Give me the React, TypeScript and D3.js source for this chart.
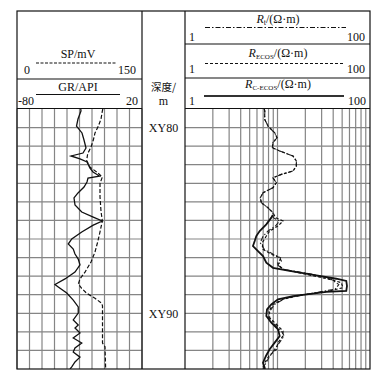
import React from "react";
import * as d3 from "d3";

// ---- data: [depth (m, XY-relative), value] ----
const grData: [number, number][] = [
  [79.0, -29], [79.11, -28.8], [79.54, -31.2], [79.92, -32.4], [80.29, -28], [80.67, -26.4],
  [81.1, -24.8], [81.37, -27.2], [81.53, -36.8], [81.69, -29.6], [81.85, -24], [82.18, -21.6],
  [82.39, -19.2], [82.61, -14], [82.72, -23.2], [82.93, -24], [83.2, -26.4], [83.52, -31.2],
  [83.79, -34.4], [84.17, -33.6], [84.55, -28.2], [84.82, -19], [85.03, -11.8], [85.25, -19],
  [85.62, -28.2], [86.0, -36.2], [86.27, -39], [86.54, -35], [86.81, -33.6], [87.08, -31],
  [87.4, -29.6], [87.78, -33.6], [88.15, -41.6], [88.45, -49.6], [88.58, -47], [88.91, -40.2],
  [89.29, -35], [89.66, -31], [89.99, -31], [90.36, -35], [90.63, -31], [90.79, -33.6],
  [91.06, -29.6], [91.33, -35], [91.6, -28.2], [91.87, -33.6], [92.09, -35], [92.36, -29.6],
  [92.62, -33.6], [92.89, -36.2], [93.0, -37.6],
];

const spData: [number, number][] = [
  [79.0, 103], [79.11, 102.4], [79.54, 100.8], [79.92, 97.6], [80.29, 93.6], [80.67, 91.6],
  [81.05, 88.8], [81.41, 84.8], [81.77, 83.6], [82.13, 87.6], [82.39, 95.6], [82.66, 102.4],
  [83.02, 99.6], [83.74, 99.6], [84.5, 100.8], [85.03, 102.4], [85.62, 99.6], [86.16, 96.8],
  [86.7, 93.6], [87.24, 88.8], [87.78, 81.6], [88.15, 75.6], [88.42, 73.6], [88.66, 77.6],
  [88.92, 83.6], [89.19, 93.6], [89.46, 101.6], [89.6, 102.6], [91.6, 102.6], [91.8, 105.6],
  [93.0, 106.4],
];

const rtData: [number, number][] = [
  [79.0, 7.2], [79.11, 7.3], [79.55, 7.25], [79.92, 7.9], [80.28, 9.3], [80.55, 9.9],
  [80.81, 8.9], [81.08, 8.8], [81.26, 10.6], [81.53, 14.7], [81.8, 16.0], [82.07, 16.0],
  [82.34, 14.7], [82.52, 11.0], [82.7, 8.9], [82.97, 9.7], [83.24, 8.9], [83.51, 7.0],
  [83.78, 6.5], [84.05, 6.7], [84.32, 7.9], [84.58, 8.9], [84.85, 9.0], [85.03, 10.5],
  [85.3, 9.5], [85.57, 7.9], [85.84, 7.0], [86.2, 6.5], [86.56, 7.2], [86.82, 9.0],
  [87.01, 10.8], [87.19, 10.5], [87.36, 9.8], [87.63, 11.5], [87.9, 24], [88.17, 38],
  [88.45, 46], [88.7, 42], [88.95, 22], [89.2, 12], [89.52, 9.3], [89.88, 8.3],
  [90.24, 8.0], [90.59, 9.3], [90.95, 11.0], [91.22, 11.8], [91.58, 10.5], [91.94, 9.3],
  [92.3, 8.3], [92.66, 7.5], [93.0, 7.0],
];

const ecosData: [number, number][] = [
  [79.0, 7.2], [79.11, 7.27], [79.55, 7.27], [79.92, 7.9], [80.28, 9.33], [80.55, 9.88],
  [80.81, 8.94], [81.08, 8.79], [81.26, 10.56], [81.53, 14.71], [81.8, 15.97], [82.07, 15.97],
  [82.34, 14.71], [82.52, 11.0], [82.7, 8.94], [82.97, 9.71], [83.24, 8.94], [83.51, 6.97],
  [83.78, 6.52], [84.05, 6.68], [84.32, 7.9], [84.58, 8.94], [84.85, 9.5], [85.03, 11.47],
  [85.3, 10.13], [85.57, 8.23], [85.84, 7.57], [86.2, 6.85], [86.56, 6.97], [86.82, 8.57],
  [87.01, 10.56], [87.19, 11.0], [87.36, 10.13], [87.63, 11.47], [87.9, 20.5], [88.17, 36.7],
  [88.35, 48.9], [88.62, 51.1], [88.8, 36.7], [89.03, 17.4], [89.25, 11.47], [89.52, 8.94],
  [89.88, 8.09], [90.24, 8.23], [90.59, 9.71], [90.95, 11.47], [91.22, 11.47], [91.58, 10.13],
  [91.94, 9.71], [92.3, 8.09], [92.66, 7.27], [92.93, 6.97], [93.0, 6.9],
];

const cecosData: [number, number][] = [
  [84.7, 8.9], [84.85, 8.57], [85.21, 7.57], [85.57, 6.42], [85.84, 5.9], [86.11, 5.67],
  [86.38, 5.43], [86.65, 6.15], [86.92, 6.97], [87.28, 7.57], [87.55, 8.94], [87.72, 13.55],
  [87.96, 26.3], [88.14, 43.2], [88.26, 55.4], [88.53, 56.4], [88.8, 55.4], [88.85, 33.7],
  [89.07, 14.71], [89.25, 10.13], [89.52, 8.57], [89.79, 7.7], [90.15, 7.57], [90.51, 8.57],
  [90.86, 10.13], [91.22, 10.56], [91.58, 9.33], [91.94, 8.23], [92.3, 7.5], [92.66, 6.97],
  [92.93, 7.27], [93.0, 7.3],
];

const depthRange: [number, number] = [79, 93];
const depthGrid = [80, 81, 82, 83, 84, 85, 86, 87, 88, 89, 90, 91, 92];
const depthLabels: [number, string][] = [[80, "XY80"], [90, "XY90"]];
const grDomain: [number, number] = [-80, 20];
const spDomain: [number, number] = [0, 150];
const resDomain: [number, number] = [1, 100];
const resGrid = [2, 3, 4, 5, 6, 7, 8, 9, 10, 20, 30, 40, 50, 60, 70, 80, 90];

const SERIF = "'Liberation Serif', 'DejaVu Serif', serif";
const CJK = "'Noto Sans CJK SC', sans-serif";

export default function App() {
  const L0 = 17, L1 = 142, D1 = 185, R1 = 370;
  const TOP = 11, HB = 108.5, BOT = 369;

  const y = d3.scaleLinear().domain(depthRange).range([109, BOT]);
  const xGR = d3.scaleLinear().domain(grDomain).range([L0, L1]);
  const xSP = d3.scaleLinear().domain(spDomain).range([L0, L1]);
  const xR = d3.scaleLog().domain(resDomain).range([D1, R1]);

  const lineGR = d3.line<[number, number]>().x((d) => xGR(d[1])).y((d) => y(d[0]));
  const lineSP = d3.line<[number, number]>().x((d) => xSP(d[1])).y((d) => y(d[0]));
  const lineR = d3.line<[number, number]>().x((d) => xR(d[1])).y((d) => y(d[0]));

  const grid = "#858585";
  const leftTicks = xGR.ticks(10);

  return (
    <svg width={381} height={377} style={{ position: "absolute", left: 0, top: 0, background: "#fff" }}>
      <defs>
        <clipPath id="clipL"><rect x={L0} y={HB} width={L1 - L0} height={BOT - HB} /></clipPath>
        <clipPath id="clipR"><rect x={D1} y={HB} width={R1 - D1} height={BOT - HB} /></clipPath>
      </defs>

      {/* grid left */}
      {leftTicks.map((t) => (
        <line key={"lv" + t} x1={xGR(t)} x2={xGR(t)} y1={HB} y2={BOT} stroke={grid} strokeWidth={1.2} />
      ))}
      {depthGrid.map((d) => (
        <line key={"lh" + d} x1={L0} x2={L1} y1={y(d)} y2={y(d)} stroke={grid} strokeWidth={1.2} />
      ))}
      {/* grid right */}
      {resGrid.map((t) => (
        <line key={"rv" + t} x1={xR(t)} x2={xR(t)} y1={HB} y2={BOT} stroke={grid} strokeWidth={1.2} />
      ))}
      {depthGrid.map((d) => (
        <line key={"rh" + d} x1={D1} x2={R1} y1={y(d)} y2={y(d)} stroke={grid} strokeWidth={1.2} />
      ))}

      {/* curves */}
      <g clipPath="url(#clipL)" fill="none">
        <path d={lineSP(spData) ?? ""} stroke="#111" strokeWidth={1.2} strokeDasharray="4,2" />
        <path d={lineGR(grData) ?? ""} stroke="#111" strokeWidth={1.3} />
      </g>
      <g clipPath="url(#clipR)" fill="none">
        <path d={lineR(rtData) ?? ""} stroke="#222" strokeWidth={1.1} strokeDasharray="5,2,1.5,2" />
        <path d={lineR(ecosData) ?? ""} stroke="#111" strokeWidth={1.2} strokeDasharray="3,2" />
        <path d={lineR(cecosData) ?? ""} stroke="#111" strokeWidth={1.8} />
      </g>

      {/* frames */}
      <g fill="none" stroke="#111" strokeWidth={1.2}>
        <rect x={L0} y={TOP} width={R1 - L0} height={BOT - TOP} />
        <line x1={L1} x2={L1} y1={TOP} y2={BOT} />
        <line x1={D1} x2={D1} y1={TOP} y2={BOT} />
        <line x1={L0} x2={L1} y1={79} y2={79} />
        <line x1={L0} x2={L1} y1={HB} y2={HB} />
        <line x1={D1} x2={R1} y1={44} y2={44} />
        <line x1={D1} x2={R1} y1={78} y2={78} />
        <line x1={D1} x2={R1} y1={HB} y2={HB} />
      </g>

      {/* left header */}
      <g fontFamily={SERIF} fontSize={12} fill="#111">
        <text x={78} y={58} textAnchor="middle">SP/mV</text>
        <line x1={36} x2={117} y1={63} y2={63} stroke="#111" strokeWidth={1.1} strokeDasharray="3,1.5" />
        <text x={24} y={74}>0</text>
        <text x={136} y={74} textAnchor="end">150</text>
        <text x={78} y={91} textAnchor="middle">GR/API</text>
        <line x1={36} x2={120} y1={94.5} y2={94.5} stroke="#111" strokeWidth={1.1} />
        <text x={18} y={105}>-80</text>
        <text x={138} y={105} textAnchor="end">20</text>
      </g>

      {/* depth column */}
      <g fill="#111" textAnchor="middle">
        <text x={163.5} y={90.5} fontFamily={CJK} fontSize={10.5}>深度/</text>
        <text x={163.5} y={105} fontFamily={SERIF} fontSize={12}>m</text>
        {depthLabels.map(([d, s]) => (
          <text key={s} x={163.5} y={y(d) + 4.5} fontFamily={SERIF} fontSize={12}>{s}</text>
        ))}
      </g>

      {/* right header */}
      <g fontFamily={SERIF} fontSize={12} fill="#111">
        <text x={278} y={23} textAnchor="middle">
          <tspan fontStyle="italic">R</tspan>
          <tspan fontSize={8} dy={2}>t</tspan>
          <tspan dy={-2}>/(Ω·m)</tspan>
        </text>
        <line x1={205} x2={346} y1={27.5} y2={27.5} stroke="#111" strokeWidth={1} strokeDasharray="5,2,1.5,2" />
        <text x={189} y={41}>1</text>
        <text x={365} y={41} textAnchor="end">100</text>

        <text x={278} y={57} textAnchor="middle">
          <tspan fontStyle="italic">R</tspan>
          <tspan fontSize={7} dy={2}>ECOS</tspan>
          <tspan dy={-2}>/(Ω·m)</tspan>
        </text>
        <line x1={205} x2={344} y1={63.5} y2={63.5} stroke="#111" strokeWidth={1} strokeDasharray="3,2" />
        <text x={189} y={73}>1</text>
        <text x={365} y={73} textAnchor="end">100</text>

        <text x={278} y={88} textAnchor="middle">
          <tspan fontStyle="italic">R</tspan>
          <tspan fontSize={7} dy={2}>C-ECOS</tspan>
          <tspan dy={-2}>/(Ω·m)</tspan>
        </text>
        <line x1={204} x2={344} y1={96} y2={96} stroke="#333" strokeWidth={2.2} />
        <text x={189} y={104.5}>1</text>
        <text x={366} y={104.5} textAnchor="end">100</text>
      </g>
    </svg>
  );
}
